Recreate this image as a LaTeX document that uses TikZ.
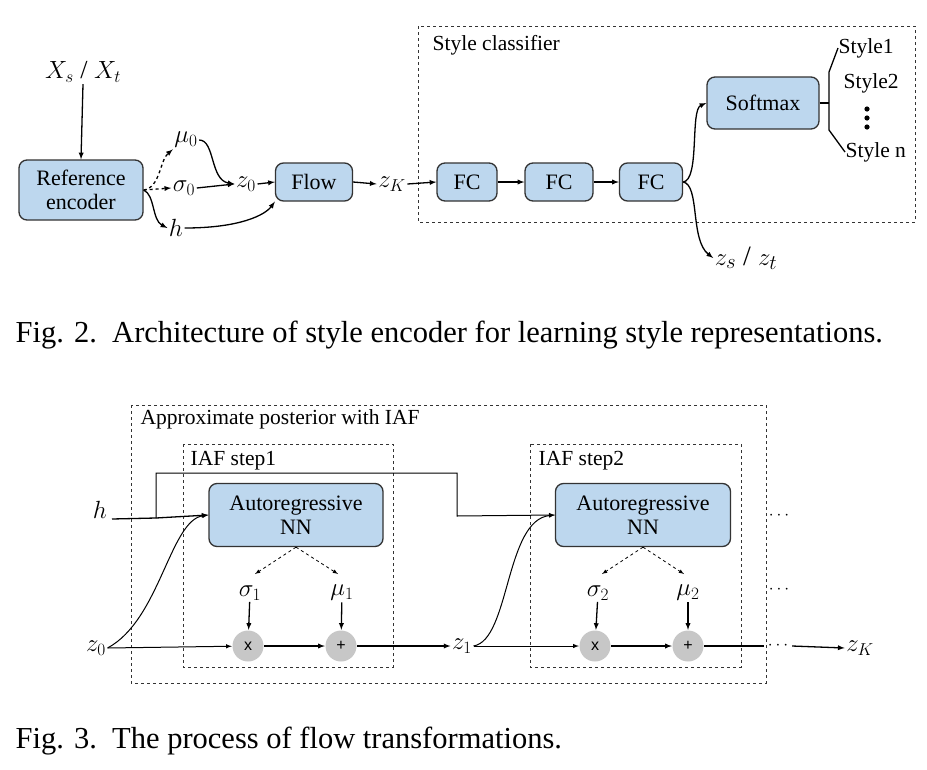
\documentclass[tikz,border=0pt]{standalone}
\usepackage{fontspec}
\setmainfont{Liberation Serif}
\newfontfamily\sansf{Liberation Sans}
\definecolor{boxblue}{RGB}{189,215,238}
\begin{document}
\begin{tikzpicture}[x=1pt,y=-1pt,>=latex,
  box/.style={draw=black!80,fill=boxblue,rounded corners=8pt,font=\fontsize{22}{24}\selectfont,align=center,inner sep=0pt},
  lab/.style={inner sep=1pt,font=\fontsize{26}{28}\selectfont},
  cir/.style={circle,fill=black!22,minimum size=31pt,inner sep=0pt,font=\sansf\fontsize{16}{17}\selectfont},
  frame/.style={draw=black!80,dashed,line width=1pt},
  figcap/.style={anchor=west,font=\fontsize{30.5}{32}\selectfont,inner sep=0pt},
  txt/.style={anchor=west,font=\fontsize{21.5}{23}\selectfont,inner sep=0pt}]
\useasboundingbox (0,0) rectangle (927,769);
\tikzset{every path/.append style={line width=1.3pt}}
% Fig 2
\node[lab] (X) at (83,72) {$X_s$ / $X_t$};
\node[box,minimum width=124pt,minimum height=60pt] (re) at (81,190) {Reference\\encoder};
\draw[->] (X.south) -- (re.north);
\node[lab] (mu0) at (186,140) {$\mu_0$};
\node[lab] (s0) at (184,188) {$\sigma_0$};
\node[lab] (h0) at (176,228) {$h$};
\draw[->,dashed] (re.east) .. controls (160,188) and (160,160) .. (mu0.south west);
\draw[->,dashed] (re.east) -- (s0.west);
\draw[->] (re.east) .. controls (155,195) and (152,220) .. (h0.west);
\node[lab] (z0) at (246,184) {$z_0$};
\draw[->] (mu0.east) .. controls (215,140) and (210,180) .. (z0.west);
\draw[->] (s0.east) -- (z0.west);
\node[box,minimum width=77pt,minimum height=38pt] (flow) at (314,182) {Flow};
\draw[->] (z0.east) -- (flow.west);
\draw[->] (h0.east) .. controls (240,228) and (265,215) .. (flow.south west);
\node[lab] (zK) at (392,184) {$z_K$};
\draw[->] (flow.east) -- (zK.west);
\draw[frame] (418,26) rectangle (915,222);
\node[txt] (sc) at (432,45) {Style classifier};
\node[box,minimum width=60pt,minimum height=38pt] (fc1) at (467,182) {FC};
\node[box,minimum width=68pt,minimum height=38pt] (fc2) at (559,182) {FC};
\node[box,minimum width=63pt,minimum height=38pt] (fc3) at (651,182) {FC};
\draw[->] (zK.east) -- (fc1.west);
\draw[->] (fc1) -- (fc2);
\draw[->] (fc2) -- (fc3);
\node[box,minimum width=112pt,minimum height=52pt] (sm) at (763,103) {Softmax};
\draw[->] (fc3.east) .. controls (700,180) and (690,110) .. (sm.west);
\node[lab,font=\fontsize{28}{30}\selectfont] (zs) at (746,258) {$z_s$ / $z_t$};
\draw[->] (fc3.east) .. controls (700,185) and (690,240) .. (zs.west);
\node[txt] (st1) at (838,48) {Style1};
\node[txt] (st2) at (843,83) {Style2};
\node[inner sep=0pt,minimum size=22pt] (dots) at (867,118) {};
\fill (dots.center) circle (2.6pt) (867,109) circle (2.6pt) (867,127) circle (2.6pt);
\node[txt] (stn) at (845,152) {Style n};
\coordinate (br) at (829,103);
\draw (sm.east) -- (br);
\draw (st1.west) -- (829,72) -- (829,130) -- (stn.west);
\node[figcap] (c2) at (15,335) {Fig. 2.\ \ Architecture of style encoder for learning style representations.};
% Fig 3
\draw[frame] (131,405) rectangle (766,683);
\node[txt] (ap) at (140,419) {Approximate posterior with IAF};
\draw[frame] (183,444) rectangle (393,667);
\node[txt] (s1) at (190,461) {IAF step1};
\draw[frame] (530,444) rectangle (741,667);
\node[txt] (s2) at (538,461) {IAF step2};
\node[box,minimum width=174pt,minimum height=63pt] (ar1) at (296,515) {Autoregressive\\NN};
\node[box,minimum width=175pt,minimum height=63pt] (ar2) at (643,515) {Autoregressive\\NN};
\node[lab] (h) at (100,510) {$h$};
\coordinate (hb) at (156,518);
\draw (112,519) -- (hb);
\draw[->] (hb) -- (ar1.west);
\draw[->,line width=1pt] (hb) -- (156,473) -- (457,473) -- (457,516) -- (ar2.west);
\node[lab] (z0b) at (96,648) {$z_0$};
\node[lab] (sg1) at (250,593) {$\sigma_1$};
\node[lab] (mu1) at (342,593) {$\mu_1$};
\node[lab] (sg2) at (598,593) {$\sigma_2$};
\node[lab] (mu2) at (688,593) {$\mu_2$};
\node[cir] (x1) at (248,646) {x};
\node[cir] (p1) at (341,646) {+};
\node[cir] (x2) at (595,646) {x};
\node[cir] (p2) at (688,646) {+};
\node[lab] (z1) at (462,646) {$z_1$};
\draw[->,line width=1pt] (z0b.east) -- (x1);
\draw[->,line width=1pt] (z0b.east) .. controls (160,620) and (170,520) .. (ar1.west);
\draw[->,dashed,line width=0.8pt] (ar1.south) -- (255,574);
\draw[->,dashed,line width=0.8pt] (ar1.south) -- (338,574);
\draw[->,dashed,line width=0.8pt] (ar2.south) -- (602,574);
\draw[->,dashed,line width=0.8pt] (ar2.south) -- (684,574);
\draw[->] (sg1) -- (x1);
\draw[->] (mu1) -- (p1);
\draw[->] (sg2) -- (x2);
\draw[->] (mu2) -- (p2);
\draw[->] (x1) -- (p1);
\draw[->] (p1) -- (z1.west);
\draw[->,line width=1pt] (z1.east) .. controls (510,640) and (505,520) .. (ar2.west);
\draw[->,line width=1pt] (z1.east) -- (x2);
\draw[->] (x2) -- (p2);
\node[font=\fontsize{18}{18}\selectfont] (d1) at (779,516) {$\cdots$};
\node[font=\fontsize{18}{18}\selectfont] (d2) at (779,590) {$\cdots$};
\node[font=\fontsize{18}{18}\selectfont] (d3) at (778,646) {$\cdots$};
\draw (p2) -- (d3.west);
\node[lab] (zKb) at (860,648) {$z_K$};
\draw[->] (d3.east) -- (zKb.west);
\node[figcap] (c3) at (15,741) {Fig. 3.\ \ The process of flow transformations.};
\end{tikzpicture}
\end{document}
